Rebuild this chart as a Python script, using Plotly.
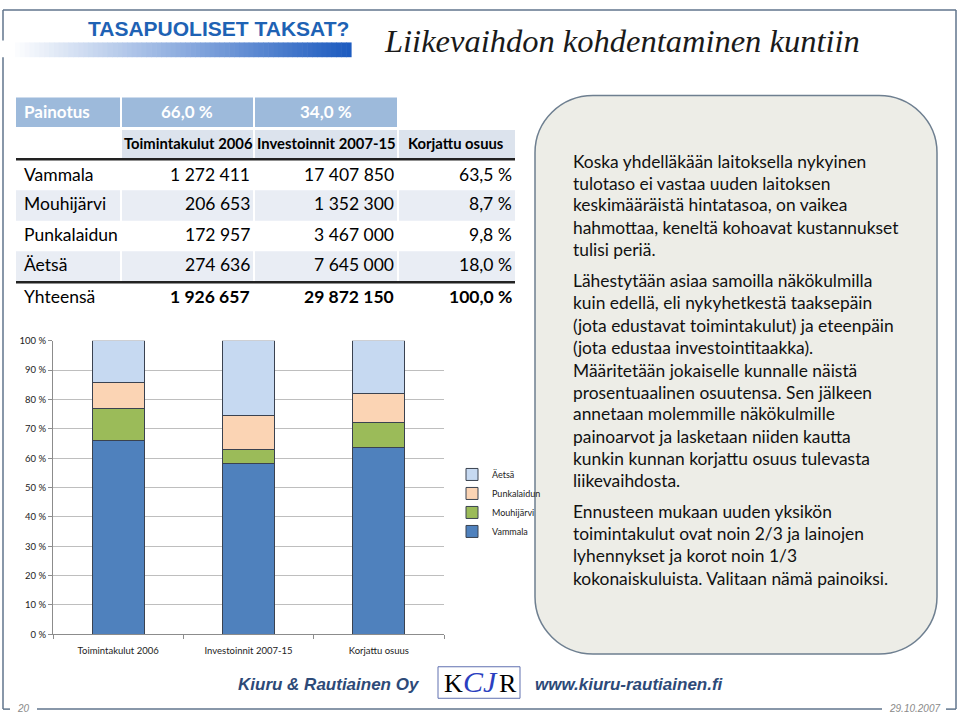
import plotly.graph_objects as go

W, H = 959, 721

# ---------------- data ----------------
categories = ["Toimintakulut 2006", "Investoinnit 2007-15", "Korjattu osuus"]
municipalities = ["Vammala", "Mouhijärvi", "Punkalaidun", "Äetsä"]
toimintakulut = [1272411, 206653, 172957, 274636]
investoinnit = [17407850, 1352300, 3467000, 7645000]
korjattu_osuus = [63.5, 8.7, 9.8, 18.0]
painotus = ["66,0 %", "34,0 %"]

table_toim = ["1 272 411", "206 653", "172 957", "274 636"]
table_inv = ["17 407 850", "1 352 300", "3 467 000", "7 645 000"]
table_korj = ["63,5 %", "8,7 %", "9,8 %", "18,0 %"]
total_label = "Yhteensä"
total_toim = "1 926 657"
total_inv = "29 872 150"
total_korj = "100,0 %"

y_ticks = [0, 10, 20, 30, 40, 50, 60, 70, 80, 90, 100]
y_tick_labels = ["0 %", "10 %", "20 %", "30 %", "40 %", "50 %", "60 %", "70 %", "80 %", "90 %", "100 %"]

bar_colors = ["#4F81BD", "#9BBB59", "#FBD4B4", "#C6D9F1"]

# ---------------- helpers ----------------
def px(x):
    return x / W

def py(y):
    return 1 - y / H

CAL = "Lato"
ARIAL = "Liberation Sans"
SERIF = "Liberation Serif"

fig = go.Figure()
for i, name in enumerate(municipalities):
    fig.add_trace(go.Bar(
        x=categories,
        y=[toimintakulut[i], investoinnit[i], korjattu_osuus[i]],
        name=name,
        marker=dict(color=bar_colors[i], line=dict(color="#3A4250", width=1)),
    ))

shapes = []
annotations = []

def rect(x0, y0, x1, y1, fill, line=None, lw=0):
    shapes.append(dict(type="rect", xref="paper", yref="paper",
                       x0=px(x0), x1=px(x1), y0=py(y1), y1=py(y0),
                       fillcolor=fill, line=dict(width=lw, color=line or fill),
                       layer="below"))

def hline(x0, x1, y, color, w):
    shapes.append(dict(type="line", xref="paper", yref="paper",
                       x0=px(x0), x1=px(x1), y0=py(y), y1=py(y),
                       line=dict(color=color, width=w)))

def vline(x, y0, y1, color, w):
    shapes.append(dict(type="line", xref="paper", yref="paper",
                       x0=px(x), x1=px(x), y0=py(y0), y1=py(y1),
                       line=dict(color=color, width=w)))

def text(x, y, s, size, color="#000000", family=CAL, anchor="left", bold=False, italic=False):
    if bold:
        s = "<b>" + s + "</b>"
    if italic:
        s = "<i>" + s + "</i>"
    annotations.append(dict(xref="paper", yref="paper", x=px(x), y=py(y), text=s,
                            showarrow=False, xanchor=anchor, yanchor="middle",
                            font=dict(size=size, color=color, family=family)))

# ---------------- frame ----------------
FR = "#61758C"
hline(3, 956, 4, FR, 1.5)
vline(3, 4, 35, FR, 1.5)
vline(3, 52, 714, FR, 1.5)
vline(956, 4, 714, FR, 1.5)
hline(3, 10, 714, FR, 1.5)
hline(37, 882, 714, FR, 1.5)
hline(946, 956, 714, FR, 1.5)

# ---------------- header ----------------
n = 70
gx0, gx1 = 10, 351
for k in range(n):
    t = k / (n - 1)
    r = int(255 + (30 - 255) * t)
    g = int(255 + (92 - 255) * t)
    b = int(255 + (192 - 255) * t)
    xa = gx0 + (gx1 - gx0) * k / n
    xb = gx0 + (gx1 - gx0) * (k + 1) / n + 0.6
    rect(xa, 37, xb, 52, "rgb(%d,%d,%d)" % (r, g, b))
text(218, 23, "TASAPUOLISET TAKSAT?", 21, "#1E62B4", ARIAL, "center", bold=True)
text(622, 36, "Liikevaihdon kohdentaminen kuntiin", 32.5, "#1A1A1A", SERIF, "center", italic=True)

# ---------------- table ----------------
HDR = "#9DBADB"
HDR2 = "#DCE3ED"
ALT = "#E9EDF4"
rect(16, 93, 120, 123, HDR)
rect(122, 93, 253, 123, HDR)
rect(255, 93, 397, 123, HDR)
rect(122, 126, 253, 155, HDR2)
rect(255, 126, 397, 155, HDR2)
rect(399, 126, 515, 155, HDR2)
row_y = [171, 201, 232, 263]
row_top = [156, 187, 218, 249]
for i in (1, 3):
    y0 = row_top[i]
    rect(16, y0, 120, y0 + 31, ALT)
    rect(122, y0, 253, y0 + 31, ALT)
    rect(255, y0, 397, y0 + 31, ALT)
    rect(399, y0, 515, y0 + 31, ALT)
hline(16, 515, 155.5, "#222222", 2.5)
hline(16, 515, 280.5, "#222222", 2.5)

text(22, 107, "Painotus", 17, "#FFFFFF", CAL, "left", bold=True)
text(187, 107, painotus[0], 17, "#FFFFFF", CAL, "center", bold=True)
text(326, 107, painotus[1], 17, "#FFFFFF", CAL, "center", bold=True)
text(188, 139, categories[0], 14.8, "#000000", CAL, "center", bold=True)
text(326, 139, categories[1], 14.8, "#000000", CAL, "center", bold=True)
text(456, 139, categories[2], 14.8, "#000000", CAL, "center", bold=True)
for i, name in enumerate(municipalities):
    text(22, row_y[i], name, 17.5, "#000000", CAL, "left")
    text(252, row_y[i], table_toim[i], 17.5, "#000000", CAL, "right")
    text(396, row_y[i], table_inv[i], 17.5, "#000000", CAL, "right")
    text(514, row_y[i], table_korj[i], 17.5, "#000000", CAL, "right")
text(22, 295, total_label, 17.5, "#000000", CAL, "left")
text(252, 295, total_toim, 17.5, "#000000", CAL, "right", bold=True)
text(396, 295, total_inv, 17.5, "#000000", CAL, "right", bold=True)
text(514, 295, total_korj, 17.5, "#000000", CAL, "right", bold=True)

# ---------------- text box ----------------
bx0, by0, bx1, by1, rad = 535, 91, 937, 658, 58
k = 0.5523 * rad
def P(x, y):
    return "%f,%f" % (px(x), py(y))
path = ("M " + P(bx0 + rad, by0) +
        " L " + P(bx1 - rad, by0) +
        " C " + P(bx1 - rad + k, by0) + " " + P(bx1, by0 + rad - k) + " " + P(bx1, by0 + rad) +
        " L " + P(bx1, by1 - rad) +
        " C " + P(bx1, by1 - rad + k) + " " + P(bx1 - rad + k, by1) + " " + P(bx1 - rad, by1) +
        " L " + P(bx0 + rad, by1) +
        " C " + P(bx0 + rad - k, by1) + " " + P(bx0, by1 - rad + k) + " " + P(bx0, by1 - rad) +
        " L " + P(bx0, by0 + rad) +
        " C " + P(bx0, by0 + rad - k) + " " + P(bx0 + rad - k, by0) + " " + P(bx0 + rad, by0) + " Z")
shapes.append(dict(type="path", xref="paper", yref="paper", path=path,
                   fillcolor="#EDEDE7", line=dict(color="#6E7F90", width=1.5), layer="below"))

box_lines = [
    (158, "Koska yhdelläkään laitoksella nykyinen"),
    (180, "tulotaso ei vastaa uuden laitoksen"),
    (202, "keskimääräistä hintatasoa, on vaikea"),
    (225, "hahmottaa, keneltä kohoavat kustannukset"),
    (247, "tulisi periä."),
    (279, "Lähestytään asiaa samoilla näkökulmilla"),
    (301, "kuin edellä, eli nykyhetkestä taaksepäin"),
    (324, "(jota edustavat toimintakulut) ja eteenpäin"),
    (347, "(jota edustaa investointitaakka)."),
    (370, "Määritetään jokaiselle kunnalle näistä"),
    (392, "prosentuaalinen osuutensa. Sen jälkeen"),
    (414, "annetaan molemmille näkökulmille"),
    (437, "painoarvot ja lasketaan niiden kautta"),
    (460, "kunkin kunnan korjattu osuus tulevasta"),
    (482, "liikevaihdosta."),
    (513, "Ennusteen mukaan uuden yksikön"),
    (536, "toimintakulut ovat noin 2/3 ja lainojen"),
    (558, "lyhennykset ja korot noin 1/3"),
    (581, "kokonaiskuluista. Valitaan nämä painoiksi."),
]
for yy, s in box_lines:
    text(571, yy, s, 17.4, "#111111", CAL, "left")

# ---------------- footer ----------------
FOOT = "#2D4A78"
text(422, 689, "Kiuru & Rautiainen Oy", 17, FOOT, ARIAL, "right", bold=True, italic=True)
text(533, 689, "www.kiuru-rautiainen.fi", 17, FOOT, ARIAL, "left", bold=True, italic=True)
shapes.append(dict(type="rect", xref="paper", yref="paper",
                   x0=px(438), x1=px(520), y0=py(703), y1=py(671),
                   fillcolor="rgba(0,0,0,0)", line=dict(color="#6070B0", width=1)))
text(453, 688, "K", 26, "#000000", SERIF, "center")
text(508, 688, "R", 26, "#000000", SERIF, "center")
text(480, 686, "CJ", 30, "#2B3FC0", SERIF, "center", italic=True)
text(23, 713, "20", 10, "#8A8A8A", ARIAL, "center", italic=True)
text(914, 713, "29.10.2007", 10, "#8A8A8A", ARIAL, "center", italic=True)

# ---------------- layout ----------------
fig.update_layout(
    width=W, height=H, autosize=False,
    margin=dict(l=0, r=0, t=0, b=0),
    paper_bgcolor="#FFFFFF", plot_bgcolor="#FFFFFF",
    barmode="stack", barnorm="percent", bargap=0.6,
    showlegend=True,
    legend=dict(x=px(452), y=py(461), xanchor="left", yanchor="top",
                traceorder="reversed", font=dict(size=9, family=CAL, color="#222222"),
                bgcolor="rgba(0,0,0,0)"),
    xaxis=dict(domain=[px(53), px(444)], showline=True, linecolor="#8C8C8C", linewidth=1,
               ticks="outside", tickson="boundaries", ticklen=4, tickcolor="#8C8C8C",
               ticklabelstandoff=7,
               tickfont=dict(size=9.5, family=CAL, color="#222222"), showgrid=False,
               fixedrange=True),
    yaxis=dict(domain=[py(638), py(340)], range=[0, 100], tickmode="array",
               tickvals=y_ticks, ticktext=y_tick_labels,
               showline=True, linecolor="#8C8C8C", linewidth=1,
               ticks="outside", ticklen=4, tickcolor="#8C8C8C",
               showgrid=True, gridcolor="#BEBEBE", gridwidth=1, zeroline=False,
               tickfont=dict(size=9.5, family=CAL, color="#222222"), fixedrange=True),
    shapes=shapes,
    annotations=annotations,
)

post = ("document.documentElement.style.margin='0';"
        "document.documentElement.style.padding='0';"
        "document.documentElement.style.overflow='hidden';"
        "document.body.style.margin='0';document.body.style.padding='0';"
        "document.body.style.overflow='hidden';document.body.style.height='721px';"
        "var d=document.getElementById('{plot_id}');"
        "d.style.position='absolute';d.style.top='0px';d.style.left='0px';")
fig.write_html("out.html", config={"displayModeBar": False}, post_script=post)
